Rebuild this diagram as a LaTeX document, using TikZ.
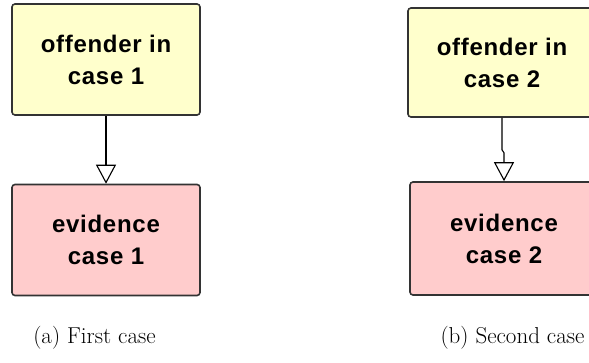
\documentclass[tikz,border=0pt]{standalone}
\usepackage{fontspec}
\newfontfamily\boxfont[LetterSpace=3]{Liberation Sans}
\usetikzlibrary{arrows.meta}
\definecolor{offyellow}{HTML}{FFFFCC}
\definecolor{evipink}{HTML}{FFCCCC}
\tikzset{
box/.style={
	  draw=black!80, line width=1.6pt, rounded corners=3pt,
	    minimum width=188pt, minimum height=111pt, align=center,
    font=\boxfont\bfseries\fontsize{24}{32}\selectfont},
offender/.style={box, fill=offyellow},
evidence/.style={box, fill=evipink},
link/.style={draw=black, line width=1.1pt,
    -{Triangle[open, length=19pt, width=20pt, line width=1.1pt]}},
caption/.style={anchor=base, font=\fontsize{23}{27}\selectfont}
}

\begin{document}
\begin{tikzpicture}[x=1pt, y=1pt]
	\useasboundingbox (0,0) rectangle (589,362);
	\clip (0,0) rectangle (589,362);
	% first case
	\node[offender] (o1) at (106,302.5) {offender in\\case 1};
	\node[evidence] (e1) at (106,122) {evidence\\case 1};
	\draw[link] (o1) -- (e1);
	\node[caption] (c1) at (94.5,19) {(a) First case};
	% second case
	\node[offender, minimum height=109pt] (o2) at (502,299.5) {offender in\\case 2};
	\node[evidence, minimum height=113pt] (e2) at (504,123.5) {evidence\\case 2};
	\draw[link] (o2.south) -- ++(0,-32) -- ++(2,-3) -- (e2.north);
	\node[caption] (c2) at (512.5,19) {(b) Second case};
\end{tikzpicture}
\end{document}
